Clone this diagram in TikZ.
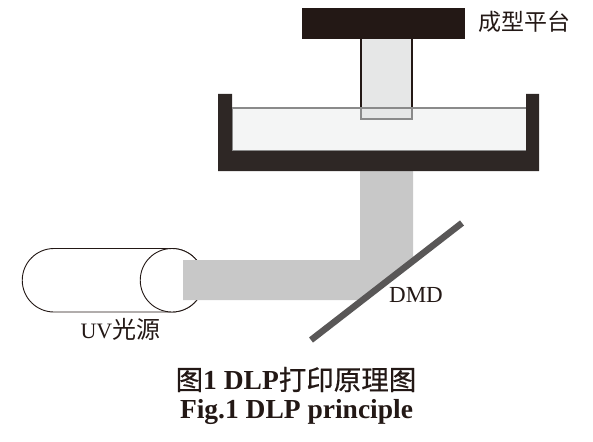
\documentclass[tikz,border=0pt]{standalone}
\usepackage{fontspec}
\setmainfont{Liberation Serif}
\newfontfamily\cjk{Noto Sans CJK SC}
\newfontfamily\cjkcap[FakeBold=0.6]{Noto Sans CJK SC}
\definecolor{vatc}{HTML}{2E2725}
\definecolor{platc}{HTML}{231815}
\definecolor{beamc}{HTML}{C8C8C8}
\definecolor{liqc}{HTML}{F4F5F5}
\definecolor{rodc}{HTML}{E6E7E7}
\definecolor{edgec}{HTML}{8A8A8A}
\definecolor{mirc}{HTML}{595757}
\tikzset{
  solidpart/.style={fill=vatc,draw=none},
  beam/.style={fill=beamc,draw=none},
  lamp/.style={draw=platc,line width=0.9pt,fill=white},
  lbl/.style={inner sep=0pt,text=platc},
  caption/.style={inner sep=0pt,text=platc,font=\bfseries\fontsize{27.5}{30}\selectfont}
}
\begin{document}
\begin{tikzpicture}[x=1pt,y=-1pt]
\useasboundingbox (0,0) rectangle (593,441);
% lamp
\draw[lamp] (54,248.5) -- (172,248.5) arc[start angle=-90,end angle=90,radius=31.75] -- (54,312) arc[start angle=90,end angle=270,radius=31.75] -- cycle;
\draw[lamp] (172,280.25) circle[radius=31.75];
% beam
\fill[beam] (183,260) -- (360,260) -- (360,169) -- (413,169) -- (413,258) -- (360,300) -- (183,300) -- cycle;
\coordinate (m1) at (311,340);
\coordinate (m2) at (462,223);
\draw[mirc,line width=6.5pt] (m1) -- (m2);
% resin
\fill[liqc] (232,108) rectangle (526,151);
% vat
\fill[solidpart] (218,94) -- (232,94) -- (232,151) -- (526,151) -- (526,94) -- (539,94) -- (539,171) -- (218,171) -- cycle;
% rod
\fill[rodc] (361,39) rectangle (412,119);
\draw[platc,line width=1.3pt] (361,39) -- (361,108) (412,39) -- (412,108);
\draw[edgec,line width=1.3pt] (232,108) -- (526,108) (361,108) -- (361,119) -- (412,119) -- (412,108);
\draw[edgec,line width=1pt] (232,108) -- (232,150.5) -- (526,150.5);
% platform
\node[fill=platc,minimum width=163pt,minimum height=31pt,inner sep=0pt] (plat) at (383.5,23.5) {};
% labels
\node[lbl,anchor=west,font=\cjk\fontsize{23}{25}\selectfont] (t1) at (478,22) {成型平台};
\node[lbl,font=\fontsize{22}{24}\selectfont] (t2) at (120.5,329) {UV{\cjk\fontsize{24}{26}\selectfont 光源}};
\node[lbl,font=\fontsize{23}{25}\selectfont] (t3) at (416,295) {DMD};
\node[caption] (t4) at (296,379.5) {{\cjkcap\mdseries 图}1 DLP{\cjkcap\mdseries 打印原理图}};
\node[caption] (t5) at (296.5,412) {Fig.1 DLP principle};
\end{tikzpicture}
\end{document}
